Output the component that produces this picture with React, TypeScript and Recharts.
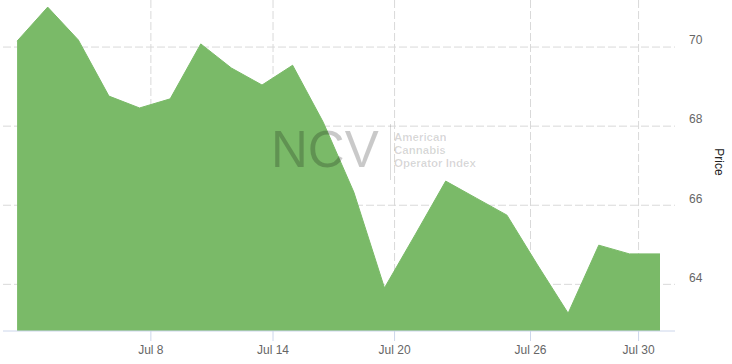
import React from 'react';
import {
  AreaChart, Area, XAxis, YAxis, CartesianGrid,
} from 'recharts';

// closing prices, one per trading session, in order
const PRICES = [
  70.15, 71.01, 70.18, 68.76, 68.46, 68.69, 70.08, 69.47, 69.04, 69.54, 68.1,
  66.33, 63.91, 65.25, 66.61, 66.18, 65.75, 64.49, 63.27, 64.99, 64.77, 64.77,
];

// date ticks sit between sessions (weekends are collapsed on the axis)
const X_TICK_POS = [4.37, 8.36, 12.33, 16.77, 20.3];
const X_TICK_LABELS = ['Jul 8', 'Jul 14', 'Jul 20', 'Jul 26', 'Jul 30'];

const Y_TICKS = [64, 66, 68, 70];

const AREA_COLOR = '#7aba68';
const GRID_COLOR = '#d9d9d9';
const AXIS_COLOR = '#ccd6eb';
const LABEL_COLOR = '#666666';
const FONT = '"Liberation Sans", Arial, sans-serif';

const chartData = PRICES.map((price, i) => ({ i, price }));

const PriceTick = (props: any) => {
  const { x, y, payload } = props;
  return (
    <text x={x + 14} y={y - 7} dy="0.355em" fill={LABEL_COLOR} fontSize={12} fontFamily={FONT} textAnchor="start">
      {payload.value}
    </text>
  );
};

const PriceLabel = (props: any) => {
  const { viewBox } = props;
  const cx = viewBox.x + 44;
  const cy = 162;
  return (
    <text x={cx} y={cy} fill="#222" fontSize={12} fontFamily={FONT} textAnchor="middle"
      dominantBaseline="central" transform={`rotate(90, ${cx}, ${cy})`}>
      Price
    </text>
  );
};

const Watermark: React.FC = () => (
  <svg width={732} height={364} style={{ position: 'absolute', left: 0, top: 0, pointerEvents: 'none' }}>
    <text x={271} y={167} fontSize={51} fontFamily={FONT} fill="rgba(0,0,0,0.21)">NCV</text>
    <line x1={390.5} x2={390.5} y1={124} y2={180} stroke="rgba(0,0,0,0.14)" strokeWidth={1} />
    <g fontSize={11.5} fontFamily={FONT} fontWeight={700} fill="rgba(0,0,0,0.16)">
      <text x={394} y={141}>American</text>
      <text x={394} y={154}>Cannabis</text>
      <text x={394} y={167}>Operator Index</text>
    </g>
  </svg>
);

const App: React.FC = () => {
  return (
    <div style={{ position: 'absolute', left: 0, top: 0, width: 732, height: 364, background: '#fff' }}>
      <AreaChart width={732} height={364} data={chartData} margin={{ top: 0, right: 7, left: 3, bottom: 0 }}>
        <CartesianGrid stroke={GRID_COLOR} strokeDasharray="8 3" syncWithTicks />
        <XAxis
          dataKey="i"
          type="number"
          domain={[-0.46, 21.49]}
          allowDataOverflow
          ticks={X_TICK_POS}
          tickFormatter={(v: number) => X_TICK_LABELS[X_TICK_POS.indexOf(v)] ?? ''}
          height={33}
          tickSize={10}
          tickMargin={4}
          axisLine={{ stroke: AXIS_COLOR }}
          tickLine={{ stroke: AXIS_COLOR }}
          tick={{ fill: LABEL_COLOR, fontSize: 12, fontFamily: FONT }}
        />
        <YAxis
          orientation="right"
          type="number"
          domain={[62.82, 71.19]}
          allowDataOverflow
          ticks={Y_TICKS}
          width={50}
          tickSize={0}
          tickMargin={0}
          axisLine={false}
          tickLine={false}
          tick={<PriceTick />}
          label={<PriceLabel />}
        />
        <Area
          type="linear"
          dataKey="price"
          stroke={AREA_COLOR}
          strokeWidth={1}
          fill={AREA_COLOR}
          fillOpacity={1}
          isAnimationActive={false}
          dot={false}
          activeDot={false}
        />
      </AreaChart>
      <Watermark />
    </div>
  );
};

export default App;
